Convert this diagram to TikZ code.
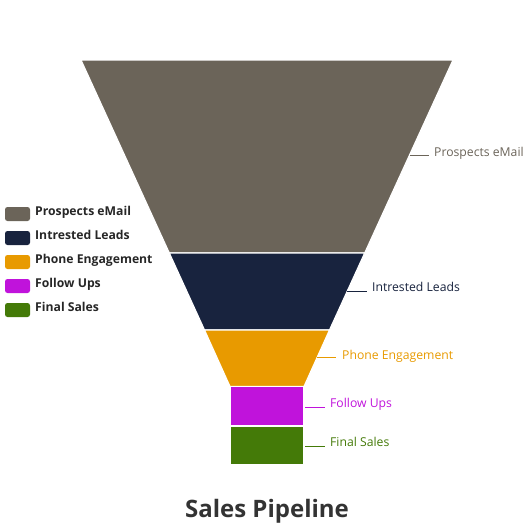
\documentclass[tikz,border=0pt]{standalone}
\usepackage{fontspec}
\setmainfont{Open Sans}
\definecolor{cProsp}{HTML}{6B6459}
\definecolor{cLeads}{HTML}{18233E}
\definecolor{cPhone}{HTML}{E89A00}
\definecolor{cFollow}{HTML}{C013DB}
\definecolor{cFinal}{HTML}{447A08}
\begin{document}
\begin{tikzpicture}[x=1pt,y=-1pt,
  seg/.style={draw=white,line width=1.2pt},
  lead/.style={line width=0.8pt},
  lbl/.style={anchor=base west,inner sep=0pt,font=\fontsize{12.2}{14}\selectfont},
  sw/.style={rounded corners=2.5pt,minimum width=25pt,minimum height=14pt,inner sep=0pt},
  leg/.style={anchor=base west,inner sep=0pt,font=\bfseries\fontsize{12.2}{14}\selectfont,text=black!85}]
\useasboundingbox (0,0) rectangle (530,523);
% funnel segments
\fill[cProsp,seg] (81,60) -- (453,60) -- (364.7,253) -- (169.3,253) -- cycle;
\fill[cLeads,seg] (169.3,253) -- (364.7,253) -- (329.5,330) -- (204.5,330) -- cycle;
\fill[cPhone,seg] (204.5,330) -- (329.5,330) -- (304,386.5) -- (230,386.5) -- cycle;
\fill[cFollow,seg] (230,386.5) rectangle (304,426);
\fill[cFinal,seg] (230,426) rectangle (304,465);
% leader lines and labels
\coordinate (p1) at (410,155); \coordinate (p2) at (347,291);
\coordinate (p3) at (317,357); \coordinate (p4) at (305,407);
\coordinate (p5) at (305,446);
\node[lbl,text=cProsp] (t1) at (434,156) {Prospects eMail};
\node[lbl,text=cLeads] (t2) at (372,291) {Intrested Leads};
\node[lbl,text=cPhone] (t3) at (342,359) {Phone Engagement};
\node[lbl,text=cFollow] (t4) at (330,407) {Follow Ups};
\node[lbl,text=cFinal] (t5) at (330,446) {Final Sales};
\draw[lead,cProsp] (p1) -- ++(19,0);
\draw[lead,cLeads] (p2) -- ++(20,0);
\draw[lead,cPhone] (p3) -- ++(19,0);
\draw[lead,cFollow] (p4) -- ++(20,0);
\draw[lead,cFinal] (p5) -- ++(20,0);
% legend
\node[sw,fill=cProsp] (s1) at (17.5,214) {};
\node[sw,fill=cLeads] (s2) at (17.5,238) {};
\node[sw,fill=cPhone] (s3) at (17.5,262) {};
\node[sw,fill=cFollow] (s4) at (17.5,286) {};
\node[sw,fill=cFinal] (s5) at (17.5,310) {};
\node[leg] (l1) at (35,215) {Prospects eMail};
\node[leg] (l2) at (35,239) {Intrested Leads};
\node[leg] (l3) at (35,263) {Phone Engagement};
\node[leg] (l4) at (35,287) {Follow Ups};
\node[leg] (l5) at (35,311) {Final Sales};
% title
\node[anchor=base,font=\bfseries\fontsize{24}{28}\selectfont,text=black!80,inner sep=0pt] (title) at (267,517) {Sales Pipeline};
\end{tikzpicture}
\end{document}
